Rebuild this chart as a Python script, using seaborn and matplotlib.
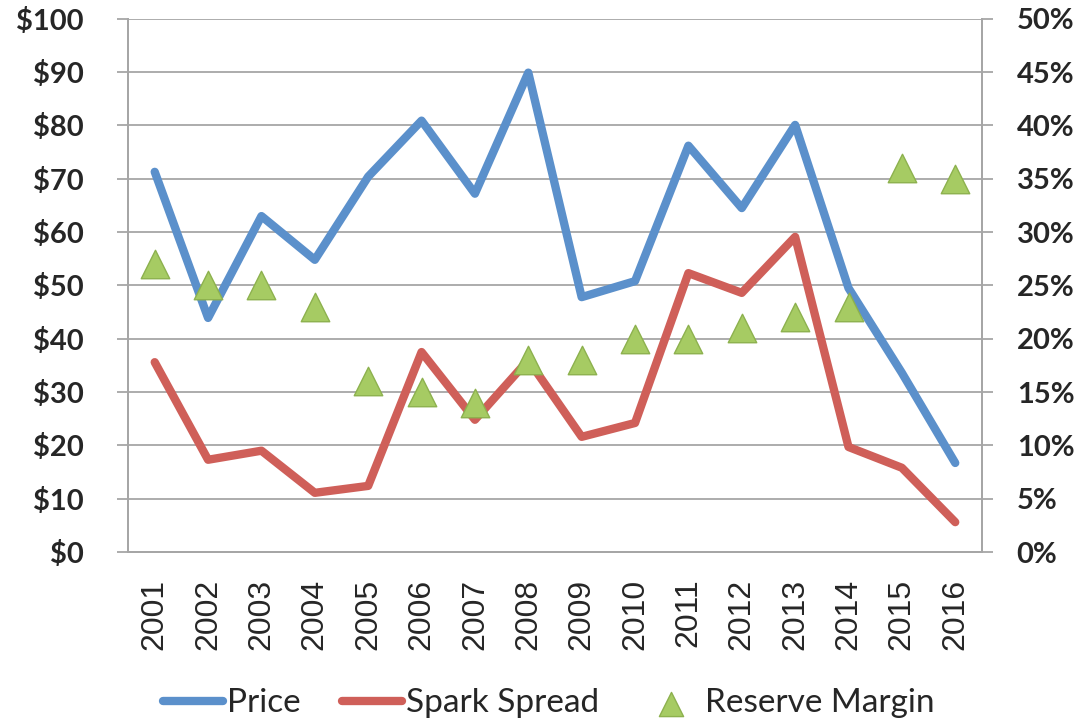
import pandas as pd
import matplotlib.pyplot as plt
import seaborn as sns
from matplotlib.ticker import FuncFormatter, FixedLocator


# chart data
years = [str(y) for y in range(2001, 2017)]
price = [71.3, 43.9, 63.0, 54.8, 70.4, 80.9, 67.2, 89.9,
         47.8, 50.8, 76.2, 64.5, 80.1, 49.5, 33.6, 16.7]
spark_spread = [35.6, 17.3, 19.0, 11.1, 12.4, 37.5, 24.8, 36.0,
                21.6, 24.2, 52.3, 48.6, 59.1, 19.7, 15.8, 5.6]
reserve_margin = [27, 25, 25, 23, 16, 15, 14, 18,
                  18, 20, 20, 21, 22, 23, 36, 35]

df = pd.DataFrame({
    "Year": years,
    "Price": price,
    "Spark Spread": spark_spread,
    "Reserve Margin": reserve_margin,
})
df["x"] = range(len(df))


# style
sns.set_style("white")
plt.rcParams["font.family"] = ["Lato", "DejaVu Sans"]

fig = plt.figure(figsize=(10.85, 7.23), dpi=100)
ax = fig.add_axes([0.118, 0.2365, 0.787, 0.7375])

grid_col = "#A6A6A6"

sns.lineplot(data=df, x="x", y="Price", ax=ax, color="#5B90CB",
             linewidth=6, solid_capstyle="round", label="Price", legend=False)
sns.lineplot(data=df, x="x", y="Spark Spread", ax=ax, color="#CF5F59",
             linewidth=6, solid_capstyle="round", label="Spark Spread", legend=False)

ax.set_xlim(-0.5, len(df) - 0.5)
ax.set_ylim(0, 100)
ax.set_yticks(range(0, 101, 10))
ax.yaxis.set_major_formatter(FuncFormatter(lambda v, p: f"${v:.0f}"))
ax.grid(axis="y", color=grid_col, linewidth=1.3)
ax.set_axisbelow(True)

# year labels centred, tick marks between categories
ax.set_xticks(df["x"])
ax.set_xticklabels(df["Year"], rotation=90,
                   fontfamily=["Liberation Sans", "DejaVu Sans"], fontsize=23)
ax.xaxis.set_minor_locator(FixedLocator([i - 0.5 for i in range(len(df) + 1)]))
ax.tick_params(axis="x", which="major", length=0, pad=19)
ax.tick_params(axis="x", which="minor", length=8, width=1.3, color=grid_col)
ax.tick_params(axis="y", length=8, width=1.3, color=grid_col, labelsize=21, pad=24)
for lab in ax.get_yticklabels():
    lab.set_fontweight("bold")

ax.set_xlabel("")
ax.set_ylabel("")
for side in ["left", "bottom", "right"]:
    ax.spines[side].set_color(grid_col)
    ax.spines[side].set_linewidth(1.3)
ax.spines["top"].set_visible(False)


# reserve margin on right axis
ax2 = ax.twinx()
sns.scatterplot(data=df, x="x", y="Reserve Margin", ax=ax2, marker="^",
                s=420, color="#A6CB63", edgecolor="#8DB14E", linewidth=1,
                label="Reserve Margin", legend=False, zorder=5)
ax2.set_ylim(0, 50)
ax2.set_yticks(range(0, 51, 5))
ax2.yaxis.set_major_formatter(FuncFormatter(lambda v, p: f"{v:.0f}%"))
ax2.tick_params(axis="y", length=8, width=1.3, color=grid_col, labelsize=21, pad=17)
for lab in ax2.get_yticklabels():
    lab.set_fontweight("bold")
ax2.set_ylabel("")
ax2.set_xlabel("")
ax2.spines["top"].set_visible(False)
for side in ["left", "bottom", "right"]:
    ax2.spines[side].set_color(grid_col)
    ax2.spines[side].set_linewidth(1.3)


# legend
h1, l1 = ax.get_legend_handles_labels()
h2, l2 = ax2.get_legend_handles_labels()
leg = fig.legend(h1 + h2, l1 + l2, loc="center", ncol=3, frameon=False,
                 fontsize=24, bbox_to_anchor=(0.5055, 0.027), handlelength=1.8,
                 handletextpad=0.12, columnspacing=1.25, markerscale=0.85,
                 borderpad=0, borderaxespad=0)

fig.savefig("out.png", dpi=100)
